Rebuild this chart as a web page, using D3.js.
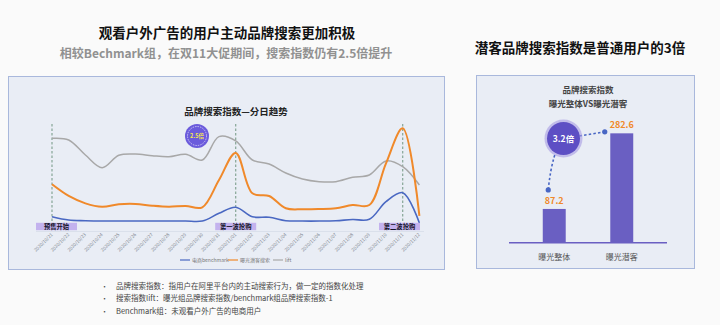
<!DOCTYPE html>
<html><head><meta charset="utf-8">
<script src="https://cdn.jsdelivr.net/npm/d3@7"></script>
<style>
html,body{margin:0;padding:0;background:#fafafa;}
svg{display:block;font-family:"Noto Sans CJK SC","Noto Sans",sans-serif;}
</style></head><body>
<svg id="c" width="720" height="325"></svg>
<script>
const dates = ["2020/10/21","2020/10/22","2020/10/23","2020/10/24","2020/10/25","2020/10/26","2020/10/27","2020/10/28","2020/10/29","2020/10/30","2020/10/31","2020/11/01","2020/11/02","2020/11/03","2020/11/04","2020/11/05","2020/11/06","2020/11/07","2020/11/08","2020/11/09","2020/11/10","2020/11/11","2020/11/12"];
const benchmark = [7.5,4.5,3.9,3.6,3.6,3.6,3.6,3.6,3.6,3.6,10.6,16.1,7.5,7.0,3.9,3.6,3.6,3.9,5.0,5.2,21.2,29.4,1.8];
const exposed = [37,26.4,19.7,16.6,18.8,19.1,17.5,16.6,17.3,16.1,40.9,65.5,28.8,26.4,15.2,14.3,14.5,15.2,18.2,18.2,56.1,87.9,8.2];
const lift = [78.8,77.3,63.6,52.1,63.4,64.5,63.0,62.1,64.3,59.1,80.3,76.4,59.1,55.5,47.3,41.8,39.4,39.4,43.4,45.5,58.2,53.0,36.4];
const seriesNames = ["电商benchmark","曝光潜客搜索","lift"];
const phaseLabels = ["预售开始","第一波抢购","第二波抢购"];
const phaseDates = ["2020/10/21","2020/11/01","2020/11/11"];
const barCategories = ["曝光整体","曝光潜客"];
const barValues = [87.2,282.6];

const svg = d3.select("#c");
// titles
svg.append("text").attr("x",227).attr("y",38).attr("text-anchor","middle").attr("font-size",13.5).attr("font-weight","bold").attr("fill","#111").text("观看户外广告的用户主动品牌搜索更加积极");
svg.append("text").attr("x",226).attr("y",58).attr("text-anchor","middle").attr("font-size",12).attr("font-weight","bold").attr("fill","#919191").text("相较Bechmark组，在双11大促期间，搜索指数仍有2.5倍提升");
svg.append("text").attr("x",580).attr("y",53).attr("text-anchor","middle").attr("font-size",13.5).attr("font-weight","bold").attr("fill","#111").text("潜客品牌搜索指数是普通用户的3倍");

// left panel
svg.append("rect").attr("x",8.5).attr("y",76.5).attr("width",436).attr("height",193).attr("fill","#e9edf5").attr("stroke","#a9b8dc").attr("stroke-width",1);
svg.append("text").attr("x",236).attr("y",115).attr("text-anchor","middle").attr("font-size",9.5).attr("font-weight","bold").attr("fill","#222").text("品牌搜索指数—分日趋势");

const x = d3.scalePoint().domain(dates).range([52,419.4]);
const y = d3.scaleLinear().domain([0,100]).range([225,115]);

svg.append("line").attr("x1",36).attr("x2",424).attr("y1",231.5).attr("y2",231.5).attr("stroke","#d6dce8").attr("stroke-width",0.8);

// dashed phase lines
svg.selectAll(".pl").data(phaseDates).enter().append("line")
  .attr("x1",d=>x(d)).attr("x2",d=>x(d)).attr("y1",124).attr("y2",223)
  .attr("stroke","#86a596").attr("stroke-width",1.2).attr("stroke-dasharray","2.5,2");

const line = d3.line().x((d,i)=>x(dates[i])).y(d=>y(d)).curve(d3.curveCatmullRom.alpha(0.5));
const sets = [[lift,"#a8a8a8",1.5],[exposed,"#f0892a",2],[benchmark,"#4a68c2",1.6]];
sets.forEach(s=>{
  svg.append("path").attr("d",line(s[0])).attr("fill","none").attr("stroke",s[1]).attr("stroke-width",s[2]);
});

// phase boxes
phaseDates.forEach((d,i)=>{
  let cx = x(d), w = 41;
  let x0 = Math.max(36, Math.min(420-w, cx-w/2));
  svg.append("rect").attr("x",x0).attr("y",222.8).attr("width",w).attr("height",7.4).attr("fill","#c3b2ee");
  svg.append("text").attr("x",x0+w/2).attr("y",229).attr("text-anchor","middle").attr("font-size",6.3).attr("font-weight","bold").attr("fill","#15152a").text(phaseLabels[i]);
});

// x tick labels
svg.selectAll(".xl").data(dates).enter().append("text")
  .attr("transform",d=>`translate(${x(d)+1},${235}) rotate(-45)`)
  .attr("text-anchor","end").attr("font-size",4.6).attr("fill","#80868f").text(d=>d);

// legend
const legX = [180,228,273];
const legColors = ["#4a68c2","#f0892a","#a8a8a8"];
seriesNames.forEach((n,i)=>{
  svg.append("line").attr("x1",legX[i]).attr("x2",legX[i]+10).attr("y1",260).attr("y2",260).attr("stroke",legColors[i]).attr("stroke-width",1.2);
  svg.append("text").attr("x",legX[i]+12).attr("y",261.8).attr("font-size",5).attr("fill","#777").text(n);
});

// 2.5x badge
svg.append("circle").attr("cx",197).attr("cy",136).attr("r",12).attr("fill","#6b5bdc");
svg.append("circle").attr("cx",197).attr("cy",136).attr("r",9.5).attr("fill","none").attr("stroke","#fff").attr("stroke-width",0.6).attr("stroke-dasharray","1.5,1");
svg.append("text").attr("x",197).attr("y",138).attr("text-anchor","middle").attr("font-size",5.5).attr("font-weight","bold").attr("fill","#f4e84a").text("2.5倍");

// right panel
svg.append("rect").attr("x",476.5).attr("y",75.5).attr("width",218).attr("height",193).attr("fill","#e9edf5").attr("stroke","#a9b8dc").attr("stroke-width",1);
svg.append("text").attr("x",588).attr("y",92.5).attr("text-anchor","middle").attr("font-size",8.5).attr("font-weight","bold").attr("fill","#444").text("品牌搜索指数");
svg.append("text").attr("x",588).attr("y",106.5).attr("text-anchor","middle").attr("font-size",8.5).attr("font-weight","bold").attr("fill","#444").text("曝光整体VS曝光潜客");

const xb = d3.scaleBand().domain(barCategories).range([509,667]).paddingInner(0.66).paddingOuter(0.5);
const yb = d3.scaleLinear().domain([0,300]).range([242.7,126.6]);
svg.selectAll(".bar").data(barValues).enter().append("rect")
  .attr("x",(d,i)=>xb(barCategories[i])).attr("width",xb.bandwidth())
  .attr("y",d=>yb(d)).attr("height",d=>yb(0)-yb(d)).attr("fill","#6a5fc2");
svg.append("line").attr("x1",509).attr("x2",667).attr("y1",242.7).attr("y2",242.7).attr("stroke","#6a5fc2").attr("stroke-width",1.5);
svg.selectAll(".bv").data(barValues).enter().append("text")
  .attr("x",(d,i)=>xb(barCategories[i])+xb.bandwidth()/2).attr("y",d=>yb(d)-5)
  .attr("text-anchor","middle").attr("font-size",9).attr("font-weight","bold").attr("fill","#f0892a").text(d=>d);
svg.selectAll(".bc").data(barCategories).enter().append("text")
  .attr("x",d=>xb(d)+xb.bandwidth()/2).attr("y",259.5)
  .attr("text-anchor","middle").attr("font-size",8).attr("fill","#555").text(d=>d);

// connector
const p0 = [xb(barCategories[0])+xb.bandwidth()/2-6, yb(barValues[0])-19];
const p1 = [xb(barCategories[1])+xb.bandwidth()/2-17, yb(barValues[1])-1.5];
const cc = [563.5,138.5];
svg.append("path").attr("d",`M${p0[0]},${p0[1]} Q${p0[0]+4},${cc[1]+12} ${cc[0]},${cc[1]} L${p1[0]},${p1[1]}`)
  .attr("fill","none").attr("stroke","#4866c4").attr("stroke-width",1.6).attr("stroke-dasharray","2.5,2.2");
[p0,p1].forEach(p=>svg.append("circle").attr("cx",p[0]).attr("cy",p[1]).attr("r",2.6).attr("fill","#4866c4"));
svg.append("circle").attr("cx",cc[0]).attr("cy",cc[1]).attr("r",19).attr("fill","#a79be3").attr("opacity",0.6);
svg.append("circle").attr("cx",cc[0]).attr("cy",cc[1]).attr("r",16.5).attr("fill","#5d4fc4");
svg.append("text").attr("x",cc[0]).attr("y",cc[1]+3).attr("text-anchor","middle").attr("font-size",8.5).attr("font-weight","bold").attr("fill","#fff").text("3.2倍");

// bullets
const notes = ["品牌搜索指数：指用户在阿里平台内的主动搜索行为，做一定的指数化处理","搜索指数lift：曝光组品牌搜索指数/benchmark组品牌搜索指数-1","Benchmark组：未观看户外广告的电商用户"];
notes.forEach((t,i)=>{
  svg.append("text").attr("x",101).attr("y",289+i*12.3).attr("font-size",7).attr("fill","#444").text("•");
  svg.append("text").attr("x",116).attr("y",289+i*12.3).attr("font-size",7.5).attr("fill","#444").text(t);
});
</script>
</body></html>
